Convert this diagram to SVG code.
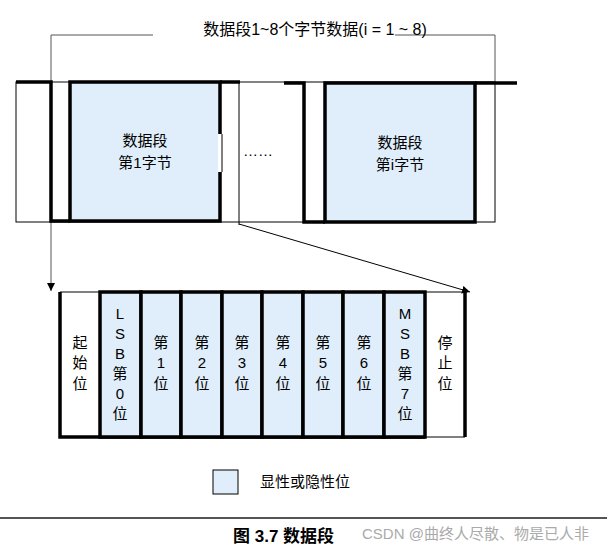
<svg xmlns="http://www.w3.org/2000/svg" width="607" height="551" viewBox="0 0 607 551">
<defs>
<style>
text{font-family:"Liberation Sans","Noto Sans CJK SC",sans-serif;font-size:15px;fill:#000}
.thin{stroke:#000;stroke-width:1;fill:none}
.gray{stroke:#555;stroke-width:1;fill:none}
.thick{stroke:#000;stroke-width:3.5;fill:none}
.blue{fill:#dfeefa;stroke:#000;stroke-width:3.5}
.c{text-anchor:middle}
</style>
<marker id="ah" viewBox="0 0 10 10" refX="10" refY="5" markerWidth="8" markerHeight="8" orient="auto"><path d="M0,0L10,5L0,10z" fill="#000"/></marker>
</defs>
<g id="bracket">
<polyline class="gray" points="51,270 51,35 153,35"/>
<polyline class="gray" points="395,35 495,35 495,83"/>
<text x="315" y="35" class="c" font-size="16" style="font-size:16px">数据段1~8个字节数据(i = 1 ~ 8)</text>
</g>
<g id="frame-top">
<rect x="16" y="82" width="479" height="140" class="thin"/>
<line x1="51" y1="82" x2="70" y2="82" stroke="#888" stroke-width="1"/>
<line x1="240" y1="82" x2="284" y2="82" stroke="#888" stroke-width="1"/>
</g>
<g id="byte1">
<rect x="70" y="82" width="150" height="139" class="blue"/>
<polyline class="thick" points="16,82 51,82 51,221 70,221"/>
<line x1="220" y1="82" x2="240" y2="82" class="thick"/>
<line x1="239" y1="82" x2="239" y2="225" class="thin"/>
<rect x="218" y="134" width="4" height="38" fill="#fff"/>
<line x1="222" y1="134" x2="222" y2="172" class="thin"/>
<text x="145" y="146" class="c">数据段</text>
<text x="145" y="168" class="c">第1字节</text>
</g>
<text x="258" y="156" class="c">……</text>
<g id="bytei">
<rect x="325" y="83" width="150" height="139" class="blue"/>
<polyline class="thick" points="284,83 304,83 304,222 325,222"/>
<line x1="475" y1="83" x2="517" y2="83" class="thick"/>
<text x="400" y="148" class="c">数据段</text>
<text x="400" y="170" class="c">第i字节</text>
</g>
<g id="connectors">
<line x1="51" y1="270" x2="51" y2="291" class="gray" marker-end="url(#ah)"/>
<line x1="239" y1="224" x2="470" y2="292" class="thin" marker-end="url(#ah)"/>
</g>
<g id="bits">
<line x1="60" y1="292" x2="465" y2="292" class="thin"/>
<line x1="425" y1="437" x2="465" y2="437" class="thin"/>
<polyline class="thick" points="60,292 60,437 425,437"/>
<line x1="465" y1="292" x2="465" y2="437" class="thick"/>
<rect x="100" y="292" width="41" height="145" class="blue"/>
<rect x="141" y="292" width="40" height="145" class="blue"/>
<rect x="181" y="292" width="41" height="145" class="blue"/>
<rect x="222" y="292" width="40" height="145" class="blue"/>
<rect x="262" y="292" width="41" height="145" class="blue"/>
<rect x="303" y="292" width="40" height="145" class="blue"/>
<rect x="343" y="292" width="41" height="145" class="blue"/>
<rect x="384" y="292" width="41" height="145" class="blue"/>
<text x="80" y="348" class="c">起</text><text x="80" y="368" class="c">始</text><text x="80" y="389" class="c">位</text>
<text x="120" y="319" class="c">L</text><text x="120" y="339" class="c">S</text><text x="120" y="359" class="c">B</text><text x="120" y="379" class="c">第</text><text x="120" y="399" class="c">0</text><text x="120" y="419" class="c">位</text>
<text x="161" y="348" class="c">第</text><text x="161" y="368" class="c">1</text><text x="161" y="389" class="c">位</text>
<text x="202" y="348" class="c">第</text><text x="202" y="368" class="c">2</text><text x="202" y="389" class="c">位</text>
<text x="242" y="348" class="c">第</text><text x="242" y="368" class="c">3</text><text x="242" y="389" class="c">位</text>
<text x="283" y="348" class="c">第</text><text x="283" y="368" class="c">4</text><text x="283" y="389" class="c">位</text>
<text x="323" y="348" class="c">第</text><text x="323" y="368" class="c">5</text><text x="323" y="389" class="c">位</text>
<text x="364" y="348" class="c">第</text><text x="364" y="368" class="c">6</text><text x="364" y="389" class="c">位</text>
<text x="405" y="319" class="c">M</text><text x="405" y="339" class="c">S</text><text x="405" y="359" class="c">B</text><text x="405" y="379" class="c">第</text><text x="405" y="399" class="c">7</text><text x="405" y="419" class="c">位</text>
<text x="445" y="348" class="c">停</text><text x="445" y="368" class="c">止</text><text x="445" y="389" class="c">位</text>
</g>
<g id="legend">
<rect x="213" y="470" width="25" height="24" fill="#dfeefa" stroke="#000" stroke-width="1"/>
<text x="260" y="487">显性或隐性位</text>
</g>
<line x1="0" y1="518" x2="607" y2="518" stroke="#555" stroke-width="2"/>
<text x="233" y="542" style="font-size:17px;font-weight:bold">图 3.7  数据段</text>
<text x="362" y="539" style="font-size:15px;fill:#aaa">CSDN @曲终人尽散、物是已人非</text>
</svg>
